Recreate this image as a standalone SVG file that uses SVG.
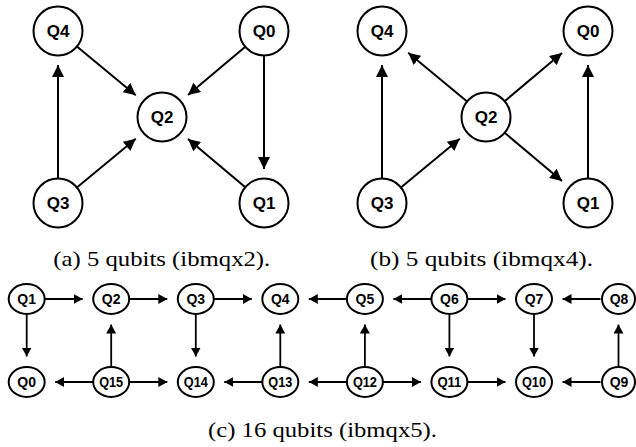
<svg xmlns="http://www.w3.org/2000/svg" width="636" height="447" viewBox="0 0 636 447">
<defs>
<marker id="ah" markerUnits="userSpaceOnUse" markerWidth="12" markerHeight="12" refX="12" refY="6" orient="auto"><path d="M0,0 L12,6 L0,12 z" fill="#000"/></marker>
<marker id="as" markerUnits="userSpaceOnUse" markerWidth="9" markerHeight="10" refX="9" refY="5" orient="auto"><path d="M0,0 L9,5 L0,10 z" fill="#000"/></marker>
<style>
.n{fill:#fff;stroke:#000;stroke-width:2}
.t{font-family:"Liberation Sans",Arial,sans-serif;font-weight:bold;font-size:17px;text-anchor:middle}
.ts{font-family:"Liberation Sans",Arial,sans-serif;font-weight:bold;font-size:14px;text-anchor:middle}
.e{stroke:#000;stroke-width:2;fill:none;marker-end:url(#ah)}
.es{stroke:#000;stroke-width:1.8;fill:none;marker-end:url(#as)}
.cap{font-family:"Liberation Serif","Times New Roman",serif;font-size:21px}
</style>
</defs>
<rect width="636" height="447" fill="#fff"/>
<g id="connectors">
<line class="e" x1="76.9" y1="46.6" x2="135.8" y2="95.3"/>
<line class="e" x1="245.3" y1="46.8" x2="188" y2="95.1"/>
<line class="e" x1="264" y1="55.5" x2="264" y2="169"/>
<line class="e" x1="58" y1="178.5" x2="58" y2="65"/>
<line class="e" x1="76.9" y1="187.4" x2="135.8" y2="138.7"/>
<line class="e" x1="245.3" y1="187.2" x2="188" y2="138.9"/>
<line class="e" x1="467.1" y1="101.4" x2="408.2" y2="52.7"/>
<line class="e" x1="504.7" y1="101.2" x2="562" y2="52.9"/>
<line class="e" x1="504.7" y1="132.8" x2="562" y2="181.1"/>
<line class="e" x1="400.9" y1="187.4" x2="459.8" y2="138.7"/>
<line class="e" x1="382" y1="178.5" x2="382" y2="65"/>
<line class="e" x1="588" y1="178.5" x2="588" y2="65"/>
<line class="es" x1="44.7" y1="299" x2="82.7" y2="299"/>
<line class="es" x1="129.2" y1="299" x2="167.3" y2="299"/>
<line class="es" x1="213.8" y1="299" x2="251.8" y2="299"/>
<line class="es" x1="346.9" y1="299" x2="308.8" y2="299"/>
<line class="es" x1="431.4" y1="299" x2="393.4" y2="299"/>
<line class="es" x1="467.4" y1="299" x2="505.5" y2="299"/>
<line class="es" x1="600.5" y1="299" x2="562.5" y2="299"/>
<line class="es" x1="26.7" y1="314" x2="26.7" y2="356.5"/>
<line class="es" x1="111.2" y1="367" x2="111.2" y2="324.5"/>
<line class="es" x1="195.8" y1="314" x2="195.8" y2="356.5"/>
<line class="es" x1="280.3" y1="367" x2="280.3" y2="324.5"/>
<line class="es" x1="364.9" y1="367" x2="364.9" y2="324.5"/>
<line class="es" x1="449.4" y1="314" x2="449.4" y2="356.5"/>
<line class="es" x1="534" y1="314" x2="534" y2="356.5"/>
<line class="es" x1="618.5" y1="367" x2="618.5" y2="324.5"/>
<line class="es" x1="93.2" y1="382" x2="55.2" y2="382"/>
<line class="es" x1="129.2" y1="382" x2="167.3" y2="382"/>
<line class="es" x1="262.3" y1="382" x2="224.3" y2="382"/>
<line class="es" x1="346.9" y1="382" x2="308.8" y2="382"/>
<line class="es" x1="382.9" y1="382" x2="420.9" y2="382"/>
<line class="es" x1="467.4" y1="382" x2="505.5" y2="382"/>
<line class="es" x1="600.5" y1="382" x2="562.5" y2="382"/>
</g>
<g id="a-Q4"><circle class="n" cx="58" cy="31" r="24.5"/><text class="t" x="58" y="37">Q4</text></g>
<g id="a-Q0"><circle class="n" cx="264" cy="31" r="24.5"/><text class="t" x="264" y="37">Q0</text></g>
<g id="a-Q2"><circle class="n" cx="162" cy="117" r="24.5"/><text class="t" x="162" y="123">Q2</text></g>
<g id="a-Q3"><circle class="n" cx="58" cy="203" r="24.5"/><text class="t" x="58" y="209">Q3</text></g>
<g id="a-Q1"><circle class="n" cx="264" cy="203" r="24.5"/><text class="t" x="264" y="209">Q1</text></g>
<g id="b-Q4"><circle class="n" cx="382" cy="31" r="24.5"/><text class="t" x="382" y="37">Q4</text></g>
<g id="b-Q0"><circle class="n" cx="588" cy="31" r="24.5"/><text class="t" x="588" y="37">Q0</text></g>
<g id="b-Q2"><circle class="n" cx="486" cy="117" r="24.5"/><text class="t" x="486" y="123">Q2</text></g>
<g id="b-Q3"><circle class="n" cx="382" cy="203" r="24.5"/><text class="t" x="382" y="209">Q3</text></g>
<g id="b-Q1"><circle class="n" cx="588" cy="203" r="24.5"/><text class="t" x="588" y="209">Q1</text></g>
<g id="c-Q1"><ellipse class="n" cx="26.7" cy="299" rx="18" ry="15"/><text class="ts" x="26.7" y="304">Q1</text></g>
<g id="c-Q2"><ellipse class="n" cx="111.2" cy="299" rx="18" ry="15"/><text class="ts" x="111.2" y="304">Q2</text></g>
<g id="c-Q3"><ellipse class="n" cx="195.8" cy="299" rx="18" ry="15"/><text class="ts" x="195.8" y="304">Q3</text></g>
<g id="c-Q4"><ellipse class="n" cx="280.3" cy="299" rx="18" ry="15"/><text class="ts" x="280.3" y="304">Q4</text></g>
<g id="c-Q5"><ellipse class="n" cx="364.9" cy="299" rx="18" ry="15"/><text class="ts" x="364.9" y="304">Q5</text></g>
<g id="c-Q6"><ellipse class="n" cx="449.4" cy="299" rx="18" ry="15"/><text class="ts" x="449.4" y="304">Q6</text></g>
<g id="c-Q7"><ellipse class="n" cx="534" cy="299" rx="18" ry="15"/><text class="ts" x="534" y="304">Q7</text></g>
<g id="c-Q8"><ellipse class="n" cx="618.5" cy="299" rx="16.5" ry="15"/><text class="ts" x="619" y="304">Q8</text></g>
<g id="c-Q0"><ellipse class="n" cx="26.7" cy="382" rx="18" ry="15"/><text class="ts" x="26.7" y="387">Q0</text></g>
<g id="c-Q15"><ellipse class="n" cx="111.2" cy="382" rx="18" ry="15"/><text class="ts" x="111.2" y="387" textLength="24" lengthAdjust="spacingAndGlyphs">Q15</text></g>
<g id="c-Q14"><ellipse class="n" cx="195.8" cy="382" rx="18" ry="15"/><text class="ts" x="195.8" y="387" textLength="24" lengthAdjust="spacingAndGlyphs">Q14</text></g>
<g id="c-Q13"><ellipse class="n" cx="280.3" cy="382" rx="18" ry="15"/><text class="ts" x="280.3" y="387" textLength="24" lengthAdjust="spacingAndGlyphs">Q13</text></g>
<g id="c-Q12"><ellipse class="n" cx="364.9" cy="382" rx="18" ry="15"/><text class="ts" x="364.9" y="387" textLength="24" lengthAdjust="spacingAndGlyphs">Q12</text></g>
<g id="c-Q11"><ellipse class="n" cx="449.4" cy="382" rx="18" ry="15"/><text class="ts" x="449.4" y="387" textLength="24" lengthAdjust="spacingAndGlyphs">Q11</text></g>
<g id="c-Q10"><ellipse class="n" cx="534" cy="382" rx="18" ry="15"/><text class="ts" x="534" y="387" textLength="24" lengthAdjust="spacingAndGlyphs">Q10</text></g>
<g id="c-Q9"><ellipse class="n" cx="618.5" cy="382" rx="16.5" ry="15"/><text class="ts" x="619" y="387">Q9</text></g>
<g id="captions">
<text class="cap" x="53.3" y="266" textLength="217" lengthAdjust="spacingAndGlyphs">(a) 5 qubits (ibmqx2).</text>
<text class="cap" x="370" y="266" textLength="223" lengthAdjust="spacingAndGlyphs">(b) 5 qubits (ibmqx4).</text>
<text class="cap" x="208" y="437" textLength="229" lengthAdjust="spacingAndGlyphs">(c) 16 qubits (ibmqx5).</text>
</g>
</svg>
